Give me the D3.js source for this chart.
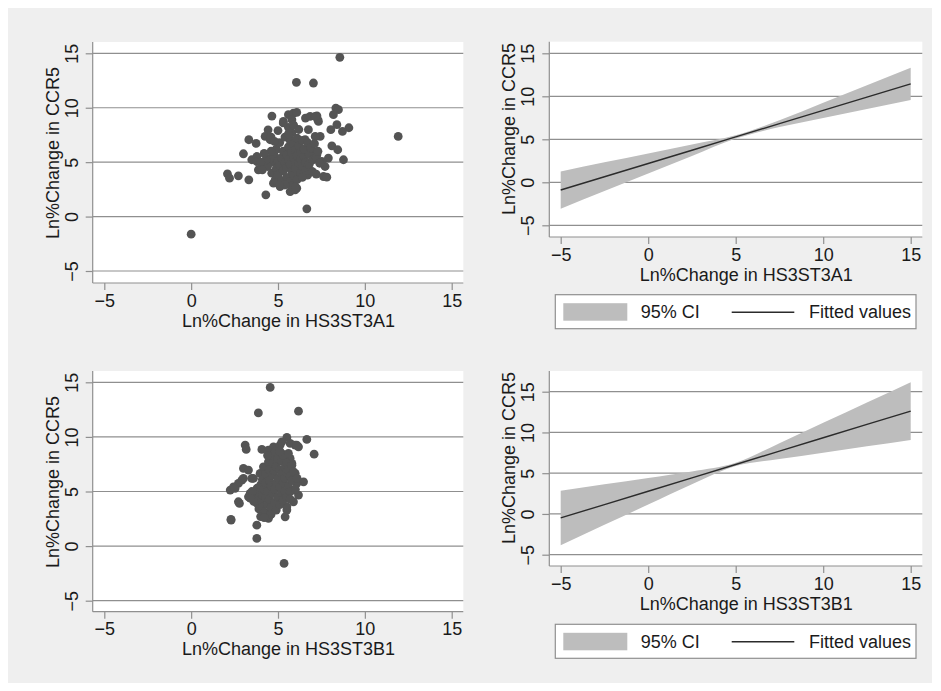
<!DOCTYPE html>
<html>
<head>
<meta charset="utf-8">
<script src="https://cdn.jsdelivr.net/npm/d3@7"></script>
<style>
  body { margin: 0; background: #fff; }
  svg { display: block; font-family: "Liberation Sans", Arial, sans-serif; }
</style>
</head>
<body>
<div id="chart"></div>
<script>
const width = 941;
const height = 691;

// tick values shared by all panels
const xTicks = [-5, 0, 5, 10, 15];
const yTicks = [-5, 0, 5, 10, 15];

// scatter: [Ln%Change HS3ST3A1, Ln%Change CCR5]
const scatterA1 = [
  [8.56,14.63],[6.06,12.33],[7.04,12.27],[0.0,-1.62],[6.66,0.71],[4.30,2.0],[11.92,7.36],
  [2.09,3.93],[2.21,3.53],[2.72,3.74],[3.32,3.38],[3.01,5.77],[3.32,7.06],[3.74,6.72],[4.65,9.23],[4.43,7.97],
  [8.33,9.97],[8.48,9.82],[8.19,9.36],[8.39,8.44],[9.08,8.16],[8.71,7.82],[8.04,7.98],[8.10,6.5],[8.44,6.14],
  [8.77,5.22],[7.62,3.68],[7.81,3.62],[7.9,5.37],[7.43,7.36],[6.58,9.05],[6.85,9.2],[7.24,9.26],[7.29,8.9],
  [5.60,9.36],[5.89,9.51],[6.08,9.57],[5.31,8.74],[5.70,2.3],[6.08,2.61],[4.74,3.07],[5.12,2.76],[5.80,8.9],
  [4.26,7.36],[4.55,7.06],[3.49,5.22],[3.78,5.52],[3.87,4.3],[3.78,5.06],[4.07,4.6],[4.26,4.76],[4.64,3.99],
  [4.84,3.38],[5.22,3.07],[5.89,3.07],[5.99,2.46],[6.08,3.53],[6.37,3.84],[6.75,3.99],[6.95,4.14],[7.04,5.98],
  [7.24,5.68],[7.52,5.06],[7.71,4.6],[6.56,7.06],[7.14,7.36],[6.75,7.98],[7.33,8.74],[7.14,9.2],
  [4.7,5.0],[4.8,5.6],[4.9,4.4],[4.9,6.2],[5.0,5.1],[5.0,3.8],[5.1,6.8],[5.1,4.7],[5.2,5.4],[5.2,3.3],
  [5.3,6.0],[5.3,4.2],[5.4,5.0],[5.4,7.3],[5.5,5.7],[5.5,4.5],[5.5,3.6],[5.6,6.4],[5.6,5.2],[5.6,8.2],
  [5.7,4.8],[5.7,7.0],[5.7,3.2],[5.8,5.9],[5.8,4.1],[5.8,7.7],[5.9,5.4],[5.9,6.7],[5.9,3.8],[6.0,5.0],
  [6.0,6.1],[6.0,4.4],[6.1,7.2],[6.1,5.6],[6.1,3.4],[6.2,4.9],[6.2,6.5],[6.3,5.3],[6.3,4.0],[6.3,5.9],
  [6.4,7.0],[6.4,4.6],[6.5,5.5],[6.5,6.2],[6.6,4.3],[6.6,5.0],[6.7,6.8],[6.7,3.8],[6.8,5.7],[6.8,4.8],
  [6.9,6.3],[7.0,5.2],[7.0,4.1],[4.5,5.3],[4.6,6.0],[4.4,4.6],[4.3,5.2],[4.2,5.8],[4.0,5.0],[4.1,4.3],
  [5.3,8.6],[5.6,7.6],[5.9,8.4],[6.2,8.0],[5.8,2.8],[6.0,2.7],[5.4,2.9],[6.4,3.6],[7.2,5.4],[7.3,6.0],
  [7.1,6.7],[7.4,4.9],[7.2,3.9],[4.6,7.3],[4.8,6.9],[5.0,7.9],[5.1,2.9]
];

// scatter: [Ln%Change HS3ST3B1, Ln%Change CCR5]
const scatterB1 = [
  [4.55,14.53],[3.87,12.2],[6.18,12.36],[5.35,-1.59],[2.30,2.38],[3.78,1.92],[3.78,0.7],[7.08,8.42],
  [6.66,9.77],[5.51,9.95],[5.99,9.25],[6.18,9.09],[3.11,9.25],[3.17,8.85],[4.07,8.85],[4.45,8.79],
  [4.74,9.09],[5.12,9.25],[3.01,7.11],[3.3,6.96],[3.01,6.2],[2.92,6.04],[2.72,5.74],[2.44,5.43],
  [2.25,5.13],[2.78,3.91],[6.47,5.89],[6.18,4.67],[5.89,5.13],[3.49,6.2],[3.40,4.83],[3.30,4.51],
  [5.51,3.3],[4.45,2.68],[4.36,2.99],[5.22,9.55],[5.70,9.4],[6.08,9.25],[5.22,8.48],[5.70,8.03],
  [5.80,7.57],[5.99,6.66],[6.08,5.74],[5.89,4.06],[5.51,3.6],[5.41,2.68],[4.45,2.53],[3.59,6.2],
  [3.97,6.66],[4.16,7.26],[4.45,7.72],[4.74,8.18],[2.72,4.06],[2.29,2.44],[4.84,8.63],[2.53,5.28],
  [3.7,4.6],[3.8,5.3],[3.8,3.9],[3.9,4.9],[3.9,3.4],[4.0,5.6],[4.0,4.2],[4.1,6.1],[4.1,4.7],[4.1,3.6],
  [4.2,5.2],[4.2,3.1],[4.3,6.6],[4.3,4.4],[4.3,5.8],[4.4,3.8],[4.4,5.0],[4.5,7.0],[4.5,4.3],[4.5,6.0],
  [4.6,5.5],[4.6,3.5],[4.6,2.9],[4.7,6.5],[4.7,4.8],[4.7,7.6],[4.8,5.2],[4.8,4.0],[4.8,6.9],[4.9,5.8],
  [4.9,3.3],[4.9,7.3],[5.0,4.5],[5.0,6.2],[5.0,8.0],[5.1,5.4],[5.1,3.8],[5.1,7.0],[5.2,6.6],[5.2,4.9],
  [5.2,7.8],[5.3,5.8],[5.3,4.2],[5.3,8.3],[5.4,7.2],[5.4,6.2],[5.4,5.0],[5.5,7.6],[5.5,6.8],[5.5,4.4],
  [5.6,5.5],[5.6,7.0],[5.7,6.4],[5.7,5.0],[5.8,7.4],[5.8,6.0],[5.9,6.8],[5.6,8.5],[5.1,8.7],[4.4,8.3],
  [3.6,4.1],[3.5,5.0],[3.4,4.4],[4.0,2.7],[4.2,2.6],[5.7,4.3],[6.0,5.2],[6.1,6.2]
];

// fitted values with 95% CI, read at these x positions
const fitX = [-5, -2.5, 0, 2.5, 5, 7.5, 10, 12.5, 15];
const fitA1 = [-0.90, 0.65, 2.19, 3.73, 5.28, 6.82, 8.37, 9.91, 11.45];
const ciUpperA1 = [1.27, 2.32, 3.35, 4.40, 5.48, 7.21, 9.25, 11.29, 13.33];
const ciLowerA1 = [-3.07, -1.02, 1.03, 3.06, 5.08, 6.43, 7.49, 8.53, 9.57];
const fitB1 = [-0.49, 1.15, 2.79, 4.43, 6.07, 7.71, 9.35, 10.99, 12.62];
const ciUpperB1 = [2.86, 3.64, 4.42, 5.21, 6.27, 8.69, 11.18, 13.68, 16.17];
const ciLowerB1 = [-3.84, -1.34, 1.16, 3.65, 5.87, 6.73, 7.52, 8.30, 9.07];

const legendLabels = ["95% CI", "Fitted values"];
const yTitle = "Ln%Change in CCR5";

const gridColor = "#8f8f8f";
const textColor = "#1a1a1a";

const svg = d3.select("#chart")
  .append("svg")
  .attr("width", width)
  .attr("height", height);

// outer gray background
svg.append("rect")
  .attr("x", 8).attr("y", 8)
  .attr("width", 924).attr("height", 675)
  .attr("fill", "#efefef");

// draw one panel frame (plot area, grid, axes, titles) and return scales
function drawPanel(p) {
  const x = d3.scaleLinear().domain([-5, 15]).range(p.xr);
  const y = d3.scaleLinear().domain([-5, 15]).range(p.yr);
  const g = svg.append("g");

  g.append("rect")
    .attr("x", p.left).attr("y", p.top)
    .attr("width", p.right - p.left).attr("height", p.bottom - p.top)
    .attr("fill", "#fff");

  // horizontal grid lines
  g.selectAll(".grid")
    .data(yTicks)
    .enter()
    .append("line")
    .attr("x1", p.left).attr("x2", p.right)
    .attr("y1", d => y(d)).attr("y2", d => y(d))
    .attr("stroke", gridColor)
    .attr("stroke-width", 1.2);

  // y axis
  const yAxis = g.append("g")
    .attr("transform", `translate(${p.left},0)`)
    .call(d3.axisLeft(y).tickValues(yTicks).tickSize(7).tickSizeOuter(0));
  yAxis.select(".domain").remove();
  yAxis.selectAll("line").attr("stroke", gridColor).attr("stroke-width", 1.2);
  yAxis.selectAll("text")
    .attr("x", null).attr("dy", null)
    .attr("text-anchor", "middle")
    .attr("transform", "translate(-15,0) rotate(-90)")
    .attr("fill", textColor)
    .style("font-size", "18px");

  // x axis
  const xAxis = g.append("g")
    .attr("transform", `translate(0,${p.bottom})`)
    .call(d3.axisBottom(x).tickValues(xTicks).tickSize(7).tickSizeOuter(0));
  xAxis.select(".domain").remove();
  xAxis.selectAll("line").attr("stroke", gridColor).attr("stroke-width", 1.2);
  xAxis.selectAll("text")
    .attr("y", 23.5).attr("dy", null)
    .attr("fill", textColor)
    .style("font-size", "18px");

  // axis lines
  g.append("line")
    .attr("x1", p.left).attr("x2", p.left)
    .attr("y1", p.top).attr("y2", p.bottom)
    .attr("stroke", gridColor).attr("stroke-width", 1.2);
  g.append("line")
    .attr("x1", p.left).attr("x2", p.right)
    .attr("y1", p.bottom).attr("y2", p.bottom)
    .attr("stroke", gridColor).attr("stroke-width", 1.2);

  // titles
  g.append("text")
    .attr("x", (p.xr[0] + p.xr[1]) / 2 + 10.5)
    .attr("y", p.bottom + 43.5)
    .attr("text-anchor", "middle")
    .attr("fill", textColor)
    .style("font-size", "18px")
    .text(p.xTitle);

  g.append("text")
    .attr("transform", `translate(${p.yTitleX},${p.yTitleY}) rotate(-90)`)
    .attr("text-anchor", "middle")
    .attr("fill", textColor)
    .style("font-size", "18px")
    .text(yTitle);

  return { g, x, y };
}

function drawScatter(p, data) {
  const { g, x, y } = drawPanel(p);
  g.selectAll("circle")
    .data(data)
    .enter()
    .append("circle")
    .attr("cx", d => x(d[0]))
    .attr("cy", d => y(d[1]))
    .attr("r", 4.4)
    .attr("fill", "#545454");
}

function drawFit(p, fit, upper, lower) {
  const { g, x, y } = drawPanel(p);
  const rows = fitX.map((v, i) => ({ x: v, fit: fit[i], hi: upper[i], lo: lower[i] }));

  const area = d3.area()
    .x(d => x(d.x))
    .y0(d => y(d.lo))
    .y1(d => y(d.hi))
    .curve(d3.curveMonotoneX);

  const line = d3.line()
    .x(d => x(d.x))
    .y(d => y(d.fit));

  g.append("path")
    .datum(rows)
    .attr("d", area)
    .attr("fill", "#bdbdbd");

  g.append("path")
    .datum(rows)
    .attr("d", line)
    .attr("fill", "none")
    .attr("stroke", "#2b2b2b")
    .attr("stroke-width", 1.4);

  // legend
  const ly = p.legendTop;
  const lg = svg.append("g");
  lg.append("rect")
    .attr("x", 555.3).attr("y", ly)
    .attr("width", 360.7).attr("height", 34)
    .attr("fill", "#fff")
    .attr("stroke", gridColor)
    .attr("stroke-width", 1.2);
  lg.append("rect")
    .attr("x", 563.3).attr("y", ly + 8.5)
    .attr("width", 64).attr("height", 17.5)
    .attr("fill", "#bdbdbd");
  lg.append("text")
    .attr("x", 640.7).attr("y", ly + 23.5)
    .attr("fill", textColor)
    .style("font-size", "18px")
    .text(legendLabels[0]);
  lg.append("line")
    .attr("x1", 731.7).attr("x2", 794.3)
    .attr("y1", ly + 17.5).attr("y2", ly + 17.5)
    .attr("stroke", "#2b2b2b")
    .attr("stroke-width", 1.4);
  lg.append("text")
    .attr("x", 809).attr("y", ly + 23.5)
    .attr("fill", textColor)
    .style("font-size", "18px")
    .text(legendLabels[1]);
}

drawScatter({
  left: 92.7, right: 463.3, top: 42, bottom: 283,
  xr: [104.3, 451.7], yr: [271, 53.3],
  xTitle: "Ln%Change in HS3ST3A1", yTitleX: 58.5, yTitleY: 153
}, scatterA1);

drawFit({
  left: 549.3, right: 922.3, top: 41.7, bottom: 237,
  xr: [560.7, 910.7], yr: [225.3, 53.3],
  xTitle: "Ln%Change in HS3ST3A1", yTitleX: 515, yTitleY: 129,
  legendTop: 294.7
}, fitA1, ciUpperA1, ciLowerA1);

drawScatter({
  left: 92.7, right: 463.3, top: 371, bottom: 611.7,
  xr: [104.3, 451.7], yr: [600.7, 382.3],
  xTitle: "Ln%Change in HS3ST3B1", yTitleX: 58.5, yTitleY: 482
}, scatterB1);

drawFit({
  left: 549.3, right: 922.3, top: 371, bottom: 566,
  xr: [560.7, 910.7], yr: [554.7, 391.7],
  xTitle: "Ln%Change in HS3ST3B1", yTitleX: 515, yTitleY: 458,
  legendTop: 624.3
}, fitB1, ciUpperB1, ciLowerB1);
</script>
</body>
</html>
